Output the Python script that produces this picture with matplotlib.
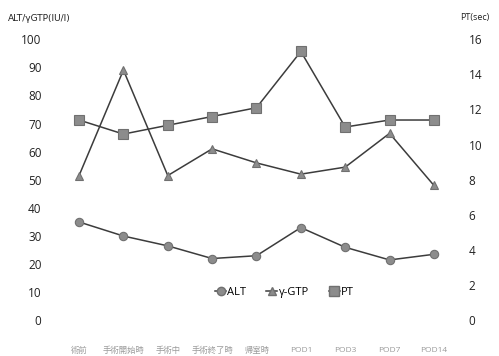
import matplotlib
matplotlib.use("Agg")
import matplotlib.pyplot as plt
from matplotlib.lines import Line2D

plt.rcParams['font.family'] = ['Open Sans', 'Noto Sans CJK JP', 'DejaVu Sans']

categories = ["術前", "手術開始時", "手術中", "手術終了時", "帰室時",
              "POD1", "POD3", "POD7", "POD14"]
alt = [35, 30, 26.5, 22, 23, 33, 26, 21.5, 23.5]
ggtp = [51.5, 89, 51.5, 61, 56, 52, 54.5, 66.5, 48]
pt = [11.4, 10.6, 11.1, 11.6, 12.1, 15.3, 11.0, 11.4, 11.4]

left_ticks = list(range(0, 101, 10))
right_ticks = list(range(0, 17, 2))

line_col = "#3c3c3c"
mark_face = "#8c8c8c"
mark_edge = "#707070"

fig = plt.figure(figsize=(4.99, 3.56), dpi=100)
ax = fig.add_axes([0.114, 0.10, 0.80, 0.79])
ax2 = ax.twinx()

x = list(range(len(categories)))
ax.plot(x, alt, color=line_col, lw=1.1, marker="o", ms=6,
        mfc=mark_face, mec=mark_edge, mew=0.8, zorder=3)
ax.plot(x, ggtp, color=line_col, lw=1.1, marker="^", ms=6,
        mfc=mark_face, mec=mark_edge, mew=0.8, zorder=3)
ax2.plot(x, pt, color=line_col, lw=1.1, marker="s", ms=6.5,
         mfc=mark_face, mec=mark_edge, mew=0.8, zorder=3)

ax.set_xlim(-0.5, len(categories) - 0.5)
ax.set_ylim(0, 100)
ax2.set_ylim(0, 16)
ax.set_yticks(left_ticks)
ax2.set_yticks(right_ticks)
ax.set_xticks(x)
ax.set_xticklabels(categories, fontsize=6, color="#9a9a9a")

for a in (ax, ax2):
    for s in a.spines.values():
        s.set_visible(False)
    a.tick_params(length=0)
ax.tick_params(axis="y", labelsize=8.5, colors="#222222", pad=11)
ax2.tick_params(axis="y", labelsize=8.5, colors="#222222", pad=9)
ax.tick_params(axis="x", pad=19)

fig.text(0.016, 0.94, "ALT/γGTP(IU/l)", fontsize=6.5, color="#222222",
         family=['DejaVu Sans'])
fig.text(0.922, 0.945, "PT(sec)", fontsize=6.5, color="#222222")

handles = [
    Line2D([], [], color=line_col, lw=1.1, marker="o", ms=6, mfc=mark_face, mec=mark_edge),
    Line2D([], [], color=line_col, lw=1.1, marker="^", ms=6, mfc=mark_face, mec=mark_edge),
    Line2D([], [], color=line_col, lw=1.1, marker="s", ms=6.5, mfc=mark_face, mec=mark_edge),
]
ax.legend(handles, ["ALT", "γ-GTP", "PT"], loc="center", bbox_to_anchor=(0.57, 0.10),
          ncol=3, frameon=False, fontsize=8, handlelength=1.0, handletextpad=0.1,
          columnspacing=1.8)

fig.savefig("out.png", dpi=100, facecolor="white")
